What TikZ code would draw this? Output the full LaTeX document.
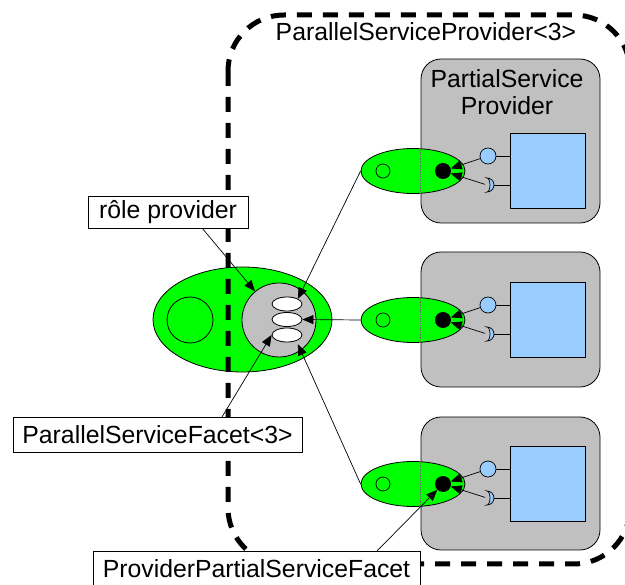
\documentclass[tikz,border=0pt]{standalone}
\usepackage{fontspec}
\setmainfont{Liberation Sans}
\usetikzlibrary{shapes.geometric,arrows.meta,calc}
\definecolor{vgreen}{HTML}{00FF00}
\definecolor{lgray}{HTML}{C0C0C0}
\definecolor{lblue}{HTML}{99CCFF}
\tikzset{
  txt/.style={font=\fontsize{24.8}{27}\selectfont},
  lbl/.style={txt, draw, fill=white, line width=0.8pt, inner sep=0pt},
  arr/.style={-{Triangle[length=11pt,width=9pt]}, line width=0.7pt},
  pbox/.style={draw, fill=lgray, rounded corners=20pt, line width=0.8pt, minimum width=179pt, inner sep=0pt},
  brect/.style={draw, fill=lblue, line width=0.8pt, minimum width=75pt, minimum height=75pt, inner sep=0pt},
  sell/.style={ellipse, draw, fill=vgreen, line width=0.8pt, minimum width=104pt, minimum height=45pt, inner sep=0pt},
  scirc/.style={circle, draw, line width=0.7pt, minimum size=14pt, inner sep=0pt},
  bdot/.style={circle, fill=black, minimum size=16pt, inner sep=0pt},
  ball/.style={circle, draw, fill=lblue, line width=0.7pt, minimum size=16pt, inner sep=0pt},
  went/.style={ellipse, draw, fill=white, line width=0.8pt, minimum width=30pt, minimum height=14pt, inner sep=0pt},
  outer/.style={line width=5pt, dash pattern=on 15pt off 11pt, rounded corners=56pt},
  thin/.style={line width=0.8pt},
}
\begin{document}
\begin{tikzpicture}[x=1pt,y=-1pt]
\useasboundingbox (0,0) rectangle (625,585);

% partial service providers
\node[pbox, minimum height=164pt] (b1) at (510.5,141) {};
\node[pbox, minimum height=135pt] (b2) at (510.5,319.5) {};
\node[pbox, minimum height=133pt] (b3) at (510.5,483.5) {};
\node[txt, align=center, inner sep=0pt] (t1) at (507,92) {PartialService\\Provider};

\node[brect] (r1) at (547.5,170.5) {};
\node[brect] (r2) at (547.5,319.5) {};
\node[brect] (r3) at (547.5,484) {};

\foreach \i/\y in {1/171,2/320,3/484}{
  \node[sell] (e\i) at (413,\y) {};
  \draw[densely dotted, line width=0.8pt, black!60] (b\i.west |- e\i.north) -- (b\i.west |- e\i.south);
  \node[scirc] (c\i) at (383,\y) {};
  \node[bdot] (d\i) at (443,\y) {};
  \node[ball] (k\i) at (488,\y-15) {};
  \coordinate (s\i) at (487,\y+14);
  \fill[lblue] (s\i) ++(0,-7) arc[start angle=-90,end angle=90,radius=7] arc[start angle=90,end angle=-90,x radius=3,y radius=7] -- cycle;
  \draw[line width=0.7pt] (s\i) ++(0,-7) arc[start angle=-90,end angle=90,radius=7] arc[start angle=90,end angle=-90,x radius=3,y radius=7] -- cycle;
  \draw[thin] (k\i.east) -- (k\i.east -| r\i.west);
  \draw[thin] ($(s\i)+(7,0)$) -- (s\i -| r\i.west);
  \draw[arr] (k\i) -- (d\i);
  \draw[arr, shorten <=2pt] (s\i) -- (d\i);
}

% parallel service facet
\node[ellipse, draw, fill=vgreen, line width=0.8pt, minimum width=179pt, minimum height=105pt, inner sep=0pt] (big) at (242.5,319.5) {};
\node[circle, draw, line width=0.8pt, minimum size=46pt, inner sep=0pt] (ic) at (190,320) {};
\node[circle, draw, fill=lgray, line width=0.8pt, minimum size=74pt, inner sep=0pt] (gc) at (279,320) {};
\node[went] (w1) at (287,304) {};
\node[went] (w2) at (287,319.5) {};
\node[went] (w3) at (287,335) {};

% outer dashed container
\draw[outer] (228,15) rectangle (630,564);
\node[txt, inner sep=0pt] (top) at (426,32) {ParallelServiceProvider<3>};

% connectors
\draw[arr] (e1.west) -- (w1.north east);
\draw[arr] (e2.west) -- (w2.east);
\draw[arr] (e3.west) -- ($(w3.south east)+(0,4)$);

% labels
\node[lbl, minimum width=160pt, minimum height=32pt] (role) at (168,212) {rôle provider};
\node[lbl, minimum width=289pt, minimum height=35pt] (psf) at (157.5,434.5) {ParallelServiceFacet<3>};
\node[lbl, minimum width=327pt, minimum height=35pt] (ppsf) at (256.5,568.5) {ProviderPartialServiceFacet};

\coordinate (r0) at (202,228);
\coordinate (p0) at (222,417);
\coordinate (q0) at (377,551);
\draw[arr] (r0) -- (gc);
\draw[arr] (p0) -- (w3.west);
\draw[arr] (q0) -- (d3);
\end{tikzpicture}
\end{document}
